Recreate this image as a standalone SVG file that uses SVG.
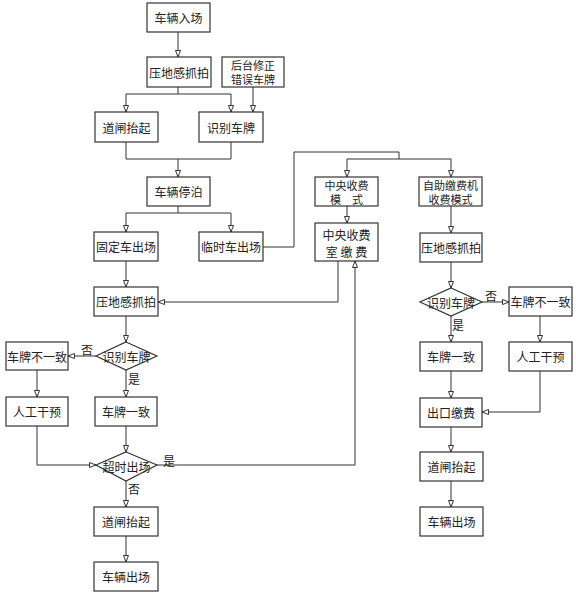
<svg xmlns="http://www.w3.org/2000/svg" width="576" height="593" viewBox="0 0 576 593">
<style>
.b{fill:#fff;stroke:#333;stroke-width:1.2}
.t{font-family:"Noto Sans CJK SC","Noto Sans",sans-serif;font-size:12px;fill:#222;text-anchor:middle;dominant-baseline:central}
.t2{font-size:11px}
.l{font-family:"Noto Sans CJK SC","Noto Sans",sans-serif;font-size:12px;fill:#222}
.c{fill:none;stroke:#333;stroke-width:1}
.a{marker-end:url(#ah)}
</style>
<defs>
<marker id="ah" markerUnits="userSpaceOnUse" markerWidth="8" markerHeight="8" refX="7" refY="3" orient="auto">
<path d="M0.5,0.5 L7,3 L0.5,5.5 Z" fill="#fff" stroke="#333" stroke-width="1"/>
</marker>
</defs>
<rect width="576" height="593" fill="#fff"/>
<g id="connectors">
<path class="c a" d="M178,32 V57"/>
<path class="c a" d="M178,87 V94 H126 V112"/>
<path class="c a" d="M178,94 H231 V112"/>
<path class="c a" d="M253,87 V112"/>
<path class="c" d="M126,142 V159 H231 V142"/>
<path class="c a" d="M178,159 V177"/>
<path class="c a" d="M178,206 V213 H126 V232"/>
<path class="c a" d="M178,213 H231 V232"/>
<path class="c" d="M263,247 H294 V152 H399 V159"/>
<path class="c a" d="M399,159 H347 V177"/>
<path class="c a" d="M399,159 H451 V177"/>
<path class="c a" d="M347,206 V223"/>
<path class="c a" d="M338,261 V302 H158"/>
<path class="c a" d="M126,261 V287"/>
<path class="c a" d="M126,316 V342"/>
<path class="c a" d="M96,356 H68"/>
<path class="c a" d="M37,370 V397"/>
<path class="c a" d="M126,370 V397"/>
<path class="c a" d="M126,426 V452"/>
<path class="c a" d="M37,426 V465 H96"/>
<path class="c a" d="M157,465 H355 V261"/>
<path class="c a" d="M126,481 V507"/>
<path class="c a" d="M126,536 V562"/>
<path class="c a" d="M451,206 V233"/>
<path class="c a" d="M451,262 V288"/>
<path class="c a" d="M482,302 H509"/>
<path class="c a" d="M451,316 V342"/>
<path class="c a" d="M540,316 V342"/>
<path class="c a" d="M451,371 V398"/>
<path class="c a" d="M540,371 V412 H482"/>
<path class="c a" d="M451,427 V452"/>
<path class="c a" d="M451,481 V507"/>
<text class="l" x="81" y="355">否</text>
<text class="l" x="128" y="384">是</text>
<text class="l" x="163" y="466">是</text>
<text class="l" x="128" y="494">否</text>
<text class="l" x="485" y="301">否</text>
<text class="l" x="452" y="330">是</text>
</g>
<g id="n1"><rect class="b" x="147" y="3" width="63" height="29"/><text class="t" x="178.5" y="17.5">车辆入场</text></g>
<g id="n2"><rect class="b" x="147" y="57" width="64" height="30"/><text class="t" x="179" y="72">压地感抓拍</text></g>
<g id="n3"><rect class="b" x="222" y="57" width="62" height="30"/><text class="t t2"><tspan x="253" y="65">后台修正</tspan><tspan x="253" y="79">错误车牌</tspan></text></g>
<g id="n4"><rect class="b" x="95" y="112" width="63" height="30"/><text class="t" x="126.5" y="127">道闸抬起</text></g>
<g id="n5"><rect class="b" x="199" y="112" width="64" height="30"/><text class="t" x="231" y="127">识别车牌</text></g>
<g id="n6"><rect class="b" x="147" y="177" width="63" height="29"/><text class="t" x="178.5" y="191.5">车辆停泊</text></g>
<g id="n7"><rect class="b" x="94" y="232" width="64" height="29"/><text class="t" x="126" y="246.5">固定车出场</text></g>
<g id="n8"><rect class="b" x="199" y="232" width="64" height="29"/><text class="t" x="231" y="246.5">临时车出场</text></g>
<g id="n9"><rect class="b" x="315" y="177" width="63" height="29"/><text class="t t2"><tspan x="346.5" y="184.5">中央收费</tspan><tspan x="346.5" y="198.5">模　式</tspan></text></g>
<g id="n10"><rect class="b" x="419" y="177" width="63" height="29"/><text class="t t2"><tspan x="450.5" y="184.5">自助缴费机</tspan><tspan x="450.5" y="198.5">收费模式</tspan></text></g>
<g id="n11"><rect class="b" x="315" y="223" width="63" height="38"/><text class="t"><tspan x="346.5" y="234">中央收费</tspan><tspan x="346.5" y="251">室 缴 费</tspan></text></g>
<g id="n12"><rect class="b" x="420" y="233" width="62" height="29"/><text class="t" x="451" y="247.5">压地感抓拍</text></g>
<g id="n13"><rect class="b" x="94" y="287" width="64" height="29"/><text class="t" x="126" y="301.5">压地感抓拍</text></g>
<g id="n14"><polygon class="b" points="126,342 157,356 126,370 96,356"/><text class="t" x="126.5" y="356">识别车牌</text></g>
<g id="n15"><rect class="b" x="6" y="342" width="62" height="28"/><text class="t" x="37" y="356">车牌不一致</text></g>
<g id="n16"><rect class="b" x="6" y="397" width="62" height="29"/><text class="t" x="37" y="411.5">人工干预</text></g>
<g id="n17"><rect class="b" x="95" y="397" width="62" height="29"/><text class="t" x="126" y="411.5">车牌一致</text></g>
<g id="n18"><polygon class="b" points="126,452 157,465 126,481 96,465"/><text class="t" x="126.5" y="466">超时出场</text></g>
<g id="n19"><rect class="b" x="94" y="507" width="64" height="29"/><text class="t" x="126" y="521.5">道闸抬起</text></g>
<g id="n20"><rect class="b" x="94" y="562" width="64" height="29"/><text class="t" x="126" y="576.5">车辆出场</text></g>
<g id="n21"><polygon class="b" points="451,288 482,302 451,316 420,302"/><text class="t" x="451" y="302">识别车牌</text></g>
<g id="n22"><rect class="b" x="509" y="287" width="63" height="29"/><text class="t" x="540.5" y="301.5">车牌不一致</text></g>
<g id="n23"><rect class="b" x="420" y="342" width="62" height="29"/><text class="t" x="451" y="356.5">车牌一致</text></g>
<g id="n24"><rect class="b" x="509" y="342" width="63" height="29"/><text class="t" x="540.5" y="356.5">人工干预</text></g>
<g id="n25"><rect class="b" x="420" y="398" width="62" height="29"/><text class="t" x="451" y="412.5">出口缴费</text></g>
<g id="n26"><rect class="b" x="420" y="452" width="63" height="29"/><text class="t" x="451.5" y="466.5">道闸抬起</text></g>
<g id="n27"><rect class="b" x="420" y="507" width="63" height="29"/><text class="t" x="451.5" y="521.5">车辆出场</text></g>
</svg>
